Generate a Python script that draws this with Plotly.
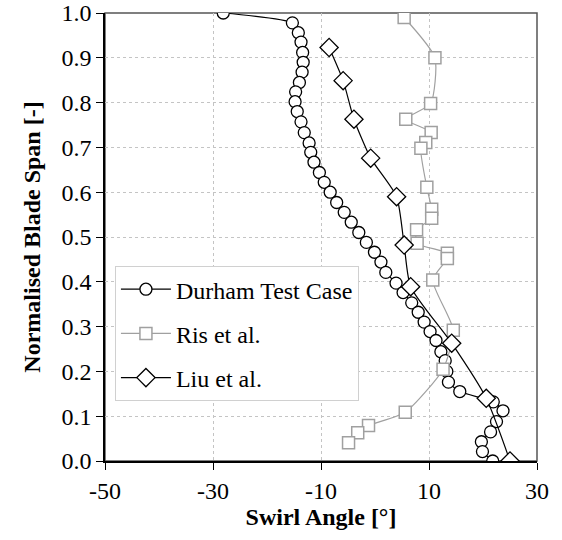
import plotly.graph_objects as go

# Durham Test Case (circles)
durham_angle = [-28.1, -15.3, -14.2, -13.7, -13.4, -13.3, -13.5, -14.0, -14.7, -14.8,
                -14.4, -13.7, -13.1, -12.2, -11.9, -11.3, -10.3, -9.4, -8.3, -7.1,
                -5.7, -4.4, -3.0, -1.6, -0.1, 1.1, 2.0, 3.9, 5.2, 6.8,
                8.0, 9.1, 10.2, 11.3, 12.2, 13.0, 13.3, 13.6, 15.7, 21.9,
                23.7, 22.5, 21.4, 19.7, 19.9, 21.8]
durham_span = [1.0, 0.978, 0.956, 0.935, 0.912, 0.890, 0.868, 0.845, 0.824, 0.802,
               0.780, 0.757, 0.733, 0.710, 0.689, 0.667, 0.644, 0.622, 0.600, 0.577,
               0.555, 0.533, 0.510, 0.488, 0.466, 0.444, 0.421, 0.397, 0.376, 0.353,
               0.332, 0.310, 0.289, 0.269, 0.244, 0.224, 0.200, 0.176, 0.155, 0.132,
               0.112, 0.088, 0.065, 0.043, 0.021, 0.0]

# Ris et al. (squares)
ris_angle = [5.4, 11.1, 10.3, 5.7, 10.4, 9.4, 8.5, 9.6, 10.5, 10.5,
             7.7, 7.8, 13.4, 13.4, 10.7, 14.5, 12.6, 5.6, -1.2, -3.2, -4.9]
ris_span = [0.990, 0.900, 0.798, 0.763, 0.733, 0.711, 0.698, 0.611, 0.562, 0.542,
            0.516, 0.486, 0.464, 0.452, 0.404, 0.292, 0.205, 0.109, 0.079, 0.063, 0.041]

# Liu et al. (diamonds)
liu_angle = [-8.5, -5.9, -3.9, -0.8, 4.0, 5.4, 6.6, 14.2, 20.6, 25.0]
liu_span = [0.923, 0.849, 0.763, 0.676, 0.590, 0.482, 0.389, 0.263, 0.140, 0.0]

x_tickvals = [-50, -30, -10, 10, 30]
x_ticktext = ["-50", "-30", "-10", "10", "30"]
y_tickvals = [0.0, 0.1, 0.2, 0.3, 0.4, 0.5, 0.6, 0.7, 0.8, 0.9, 1.0]
y_ticktext = ["0.0", "0.1", "0.2", "0.3", "0.4", "0.5", "0.6", "0.7", "0.8", "0.9", "1.0"]

FONT = "Liberation Serif"
GREY = "#a0a0a0"
FS = 24

fig = go.Figure()
fig.add_trace(go.Scatter(
    x=durham_angle, y=durham_span, mode="lines+markers", name="Durham Test Case",
    legendgroup="a",
    line=dict(color="black", width=1.2, shape="spline", smoothing=0.6),
    marker=dict(symbol="circle", size=12, color="white", line=dict(color="black", width=1.3)),
))
fig.add_trace(go.Scatter(
    x=ris_angle, y=ris_span, mode="lines+markers", name="Ris et al.",
    legendgroup="b",
    line=dict(color=GREY, width=1.2, shape="spline", smoothing=0.6),
    marker=dict(symbol="square", size=12, color="white", line=dict(color=GREY, width=1.5)),
))
fig.add_trace(go.Scatter(
    x=liu_angle, y=liu_span, mode="lines+markers", name="Liu et al.",
    legendgroup="c",
    line=dict(color="black", width=1.2, shape="spline", smoothing=0.6),
    marker=dict(symbol="diamond", size=14, color="white", line=dict(color="black", width=1.3)),
))

fig.add_shape(type="rect", xref="paper", yref="paper", x0=0, x1=1, y0=0, y1=1,
              line=dict(color="#555555", width=1.5), layer="below")

fig.update_layout(
    width=562, height=540,
    margin=dict(l=105, r=25, t=13, b=79, autoexpand=False),
    paper_bgcolor="white", plot_bgcolor="white",
    font=dict(family=FONT, size=FS, color="black"),
    showlegend=True,
    legend=dict(
        x=0.023, y=0.435, xanchor="left", yanchor="top",
        bgcolor="white", bordercolor="#d0d0d0", borderwidth=1,
        font=dict(family=FONT, size=FS, color="black"),
        tracegroupgap=10, itemwidth=50,
    ),
    xaxis=dict(
        range=[-50, 30], tickvals=x_tickvals, ticktext=x_ticktext,
        tickfont=dict(family=FONT, size=FS), ticklabeloverflow="allow",
        showgrid=True, gridcolor="#c4c4c4", gridwidth=1, griddash="3px,3px",
        zeroline=False, showline=True, linecolor="black", linewidth=1.5,
        ticks="outside", ticklen=7, tickcolor="black", automargin=False,
        title=dict(text="<b>Swirl Angle [°]</b>", font=dict(family=FONT, size=FS), standoff=4),
    ),
    yaxis=dict(
        range=[0, 1], tickvals=y_tickvals, ticktext=y_ticktext,
        tickfont=dict(family=FONT, size=FS), ticklabeloverflow="allow",
        showgrid=True, gridcolor="#c4c4c4", gridwidth=1, griddash="3px,3px",
        zeroline=False, showline=True, linecolor="black", linewidth=1.5,
        ticks="outside", ticklen=7, tickcolor="black", automargin=False,
        title=dict(text="<b>Normalised Blade Span [-]</b>", font=dict(family=FONT, size=FS), standoff=14),
    ),
)

fig.write_html("out.html", config={"displayModeBar": False},
               post_script="document.body.style.margin='0';")
